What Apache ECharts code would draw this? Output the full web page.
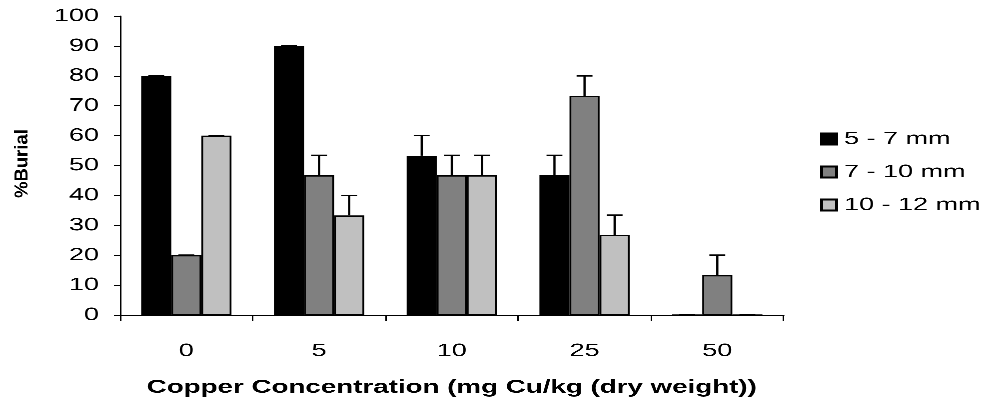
<!DOCTYPE html>
<html>
<head>
<meta charset="utf-8">
<script src="https://cdn.jsdelivr.net/npm/echarts@6/dist/echarts.min.js"></script>
<style>
  html, body { margin: 0; padding: 0; background: #fff; overflow: hidden; }
  /* The chart is laid out on a narrower canvas and widened 1.5x, which gives
     the broad lettering and wide legend keys of the printed figure. */
  #chart { width: 655px; height: 402px; transform: scaleX(1.49924); transform-origin: 0 0; }
</style>
</head>
<body>
<div id="chart"></div>
<script>
// Copper concentration categories (mg Cu/kg dry weight)
const categories = ['0', '5', '10', '25', '50'];

// Size classes shown in the legend
const sizeClasses = ['5 - 7 mm', '7 - 10 mm', '10 - 12 mm'];

// Mean % burial per size class
const burial57 = [80, 90, 53.3, 46.7, 0];
const burial710 = [20, 46.7, 46.7, 73.3, 13.3];
const burial1012 = [60, 33.3, 46.7, 26.7, 0];

// Upper error (+) per size class
const err57 = [0, 0, 6.7, 6.7, 0];
const err710 = [0, 6.7, 6.7, 6.7, 6.7];
const err1012 = [0, 6.7, 6.7, 6.7, 0];

// Y axis tick values
const yTicks = [0, 10, 20, 30, 40, 50, 60, 70, 80, 90, 100];

const fills = ['#000000', '#808080', '#c0c0c0'];
const means = [burial57, burial710, burial1012];
const errs = [err57, err710, err1012];

const CAT_GAP = 0.32;   // share of each category left empty
const font = 'Liberation Sans, Arial, sans-serif';

const chart = echarts.init(document.getElementById('chart'), null, {
  renderer: 'canvas', devicePixelRatio: 3, width: 655, height: 402
});

const barSeries = sizeClasses.map((name, i) => ({
  name: name,
  type: 'bar',
  data: means[i],
  barGap: '0%',
  barCategoryGap: (CAT_GAP * 100) + '%',
  itemStyle: { color: fills[i], borderColor: '#000', borderWidth: 1.2 },
  emphasis: { disabled: true },
  z: 2
}));

// Upward error bars with caps, centred on each bar slot
const errorSeries = sizeClasses.map((name, i) => ({
  type: 'custom',
  name: name + ' err',
  data: categories.map((c, k) => [k, means[i][k], means[i][k] + errs[i][k]]),
  encode: { x: 0, y: [1, 2] },
  z: 3,
  silent: true,
  renderItem: function (params, api) {
    const k = api.value(0);
    const catW = api.size([1, 0])[0];
    const barW = catW * (1 - CAT_GAP) / 3;
    const base = api.coord([k, api.value(1)]);
    const top = api.coord([k, api.value(2)]);
    const x = base[0] + (i - 1) * barW;
    const half = 5.3;
    const st = { stroke: '#000', lineWidth: 1.5, fill: null };
    return {
      type: 'group',
      children: [
        { type: 'line', shape: { x1: x, y1: base[1], x2: x, y2: top[1] }, style: st },
        { type: 'line', shape: { x1: x - half, y1: top[1], x2: x + half, y2: top[1] }, style: st }
      ]
    };
  }
}));

chart.setOption({
  animation: false,
  backgroundColor: '#ffffff',
  grid: { left: 80, right: 132.3, top: 16, bottom: 79, containLabel: false },
  legend: {
    data: sizeClasses,
    orient: 'vertical',
    left: 542,
    top: 124,
    itemWidth: 10,
    itemHeight: 11,
    itemGap: 13,
    icon: 'rect',
    textStyle: { fontFamily: font, fontSize: 18, lineHeight: 20, color: '#000', padding: [0, 0, 0, 0] },
    selectedMode: false
  },
  xAxis: {
    type: 'category',
    data: categories,
    boundaryGap: true,
    axisLine: { lineStyle: { color: '#000', width: 1 } },
    axisTick: { show: true, alignWithLabel: false, length: 6, lineStyle: { color: '#000' } },
    axisLabel: { fontFamily: font, fontSize: 18, color: '#000', margin: 27 },
    name: 'Copper Concentration (mg Cu/kg (dry weight))',
    nameLocation: 'middle',
    nameGap: 63,
    nameTextStyle: { fontFamily: font, fontSize: 18.5, fontWeight: 'bold', color: '#000' }
  },
  yAxis: {
    type: 'value',
    min: 0,
    max: 100,
    interval: 10,
    splitLine: { show: false },
    axisLine: { show: true, lineStyle: { color: '#000', width: 1 } },
    axisTick: { show: true, length: 4, lineStyle: { color: '#000' } },
    axisLabel: {
      fontFamily: font, fontSize: 18, color: '#000', margin: 14,
      formatter: v => yTicks.includes(v) ? String(v) : ''
    }
  },
  graphic: [{
    type: 'text',
    x: 8.5,
    y: 198,
    rotation: Math.PI / 2,
    scaleY: 0.667,
    style: {
      text: '%Burial',
      fontFamily: font,
      fontSize: 18.5,
      fontWeight: 'bold',
      fill: '#000',
      textVerticalAlign: 'top'
    }
  }],
  series: barSeries.concat(errorSeries)
});
</script>
</body>
</html>
